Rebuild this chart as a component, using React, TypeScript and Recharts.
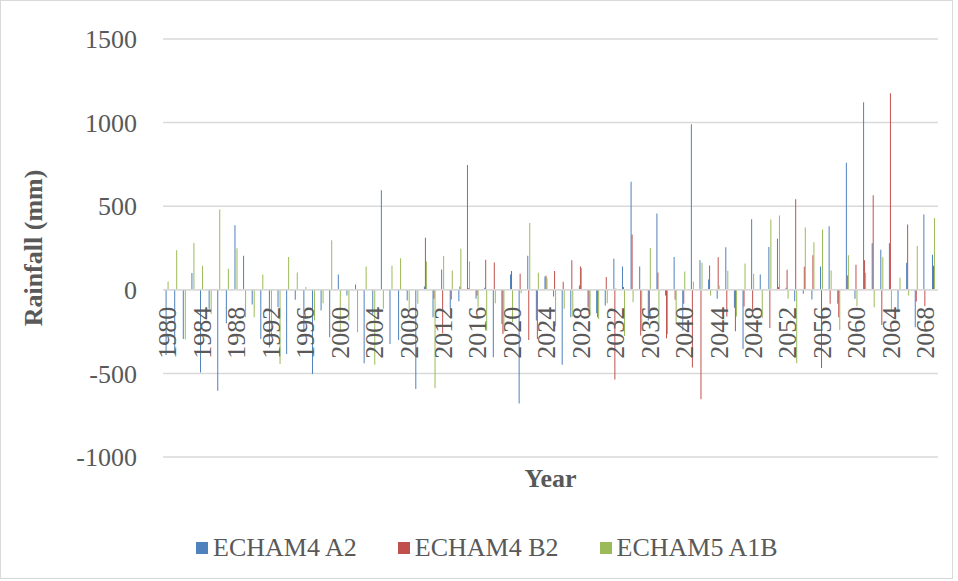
import React from "react"
import { Bar, BarChart, CartesianGrid, Legend, ReferenceLine, XAxis, YAxis } from "recharts"

// rainfall anomaly (mm) per year
const years = [
  1980, 1981, 1982, 1983, 1984, 1985, 1986, 1987, 1988, 1989,
  1990, 1991, 1992, 1993, 1994, 1995, 1996, 1997, 1998, 1999,
  2000, 2001, 2002, 2003, 2004, 2005, 2006, 2007, 2008, 2009,
  2010, 2011, 2012, 2013, 2014, 2015, 2016, 2017, 2018, 2019,
  2020, 2021, 2022, 2023, 2024, 2025, 2026, 2027, 2028, 2029,
  2030, 2031, 2032, 2033, 2034, 2035, 2036, 2037, 2038, 2039,
  2040, 2041, 2042, 2043, 2044, 2045, 2046, 2047, 2048, 2049,
  2050, 2051, 2052, 2053, 2054, 2055, 2056, 2057, 2058, 2059,
  2060, 2061, 2062, 2063, 2064, 2065, 2066, 2067, 2068, 2069,
]

const echam4A2 = [
  -390, -385, -294, 100, -494, -114, -604, -200, 386, 204,
  -88, -294, -344, -104, -384, -60, -250, -504, -124, -284,
  92, -34, 32, -440, -144, 596, -324, -300, -64, -594,
  20, -164, 122, -114, -68, 746, -54, 12, -404, -204,
  92, -680, 204, -184, 80, -40, -448, -164, 26, -104,
  -140, -94, 186, 140, 646, 140, -184, 456, -34, 196,
  -244, 990, 176, 62, -54, 254, -108, -354, 422, 92,
  256, 306, 12, -68, -24, -58, 140, 380, -84, 760,
  -54, 1122, 278, 240, 278, -134, 162, -224, 450, 210,
]

const echam4B2 = [
  null, null, null, null, null, null, null, null, null, null,
  null, null, null, null, null, null, null, null, null, null,
  null, null, null, null, null, null, null, null, null, null,
  312, -54, -260, -58, 20, 10, -34, 180, 164, -264,
  112, 96, -300, -294, 84, 112, 48, 176, 140, -144,
  -164, 76, -536, 16, 330, -274, -164, 104, -290, -60,
  -84, -464, -654, 146, 194, -160, -248, -100, -124, 5,
  -228, 16, 120, 542, 138, 206, -468, -84, -164, 86,
  150, 176, 566, -210, 1176, 5, 390, -70, -98, 144,
]

const echam5A1B = [
  50, 236, -296, 280, 144, -144, 480, 126, 248, -164,
  -164, 92, -284, -444, 196, 104, 16, -184, -80, 296,
  -254, -184, -254, 140, -448, -114, 144, 188, -120, -84,
  170, -588, 202, 116, 246, 170, -104, -244, -80, -254,
  -194, -20, 400, 102, 70, -218, -114, -160, 130, -154,
  -174, -80, 10, -276, -74, -244, 250, -244, -264, -204,
  110, 50, 162, -34, 26, 114, -160, 158, 96, -168,
  420, 444, -54, -440, 372, 284, 360, 116, -240, 206,
  -98, 102, -104, 194, -124, 72, -34, 262, 5, 430,
]

const yTicks = [-1000, -500, 0, 500, 1000, 1500]

const data = years.map((year, i) => ({
  year,
  a2: echam4A2[i],
  b2: echam4B2[i],
  a1b: echam5A1B[i],
}))

const FONT = '"Liberation Serif", "Times New Roman", serif'
const TEXT = "#595959"
const GRID = "#d9d9d9"

const WIDTH = 958
const HEIGHT = 581
const MARGIN = { top: 39, right: 20, bottom: 84, left: 0 }
const X_AXIS_H = 40
const PLOT_H = HEIGHT - MARGIN.top - MARGIN.bottom - X_AXIS_H
// year labels hang just under the zero line, like Excel does
const ZERO_Y = MARGIN.top + PLOT_H * (1500 / 2500)

function YearTick({ x, payload }: any) {
  const y = ZERO_Y + 17
  return (
    <text
      x={x}
      y={y}
      dy="0.35em"
      transform={`rotate(-90, ${x}, ${y})`}
      textAnchor="end"
      fill={TEXT}
      fontSize={26}
      fontFamily={FONT}
    >
      {payload.value}
    </text>
  )
}

function RainfallLabel({ viewBox }: any) {
  const cx = viewBox.x + 33
  const cy = viewBox.y + viewBox.height / 2
  return (
    <text
      x={cx}
      y={cy}
      dy="0.35em"
      transform={`rotate(-90, ${cx}, ${cy})`}
      textAnchor="middle"
      fill={TEXT}
      fontSize={26}
      fontWeight="bold"
      fontFamily={FONT}
    >
      Rainfall (mm)
    </text>
  )
}

function LegendRow({ payload }: any) {
  return (
    <div style={{ display: "flex", alignItems: "center", marginLeft: 196, gap: 41 }}>
      {(payload || []).map((p: any) => (
        <div key={p.value} style={{ display: "flex", alignItems: "center" }}>
          <span style={{ width: 12, height: 12, background: p.color, marginRight: 5, display: "inline-block" }} />
          <span style={{ color: TEXT, fontSize: 26, fontFamily: FONT }}>{p.value}</span>
        </div>
      ))}
    </div>
  )
}

export default function App() {
  return (
    <div style={{ position: "absolute", left: 0, top: 0, width: WIDTH, height: HEIGHT, background: "#fff" }}>
      <div
        style={{
          position: "absolute",
          left: 0,
          top: 0,
          width: 951,
          height: 577,
          border: `1px solid ${GRID}`,
          pointerEvents: "none",
        }}
      />
      <BarChart
        width={WIDTH}
        height={HEIGHT}
        data={data}
        margin={MARGIN}
        barCategoryGap="30%"
        barGap={0}
      >
        <CartesianGrid vertical={false} stroke={GRID} strokeWidth={1.5} />
        <YAxis
          domain={[-1000, 1500]}
          ticks={yTicks}
          width={163}
          axisLine={false}
          tickLine={false}
          tickSize={0}
          tickMargin={26}
          tick={{ fill: TEXT, fontSize: 26, fontFamily: FONT }}
          label={<RainfallLabel />}
        />
        <Bar dataKey="a2" name="ECHAM4 A2" fill="#4F81BD" isAnimationActive={false} />
        <Bar dataKey="b2" name="ECHAM4 B2" fill="#C0504D" isAnimationActive={false} />
        <Bar dataKey="a1b" name="ECHAM5 A1B" fill="#9BBB59" isAnimationActive={false} />
        <ReferenceLine y={0} stroke={GRID} strokeWidth={1.5} />
        <XAxis
          dataKey="year"
          interval={3}
          height={X_AXIS_H}
          axisLine={false}
          tickLine={false}
          tick={<YearTick />}
          label={{
            value: "Year",
            position: "insideBottom",
            offset: 10,
            fill: TEXT,
            fontSize: 26,
            fontWeight: "bold",
            fontFamily: FONT,
          }}
        />
        <Legend
          layout="vertical"
          align="center"
          verticalAlign="bottom"
          content={<LegendRow />}
          wrapperStyle={{ left: 0, top: 533, bottom: "auto", width: WIDTH, height: 0, overflow: "visible" }}
        />
      </BarChart>
    </div>
  )
}
